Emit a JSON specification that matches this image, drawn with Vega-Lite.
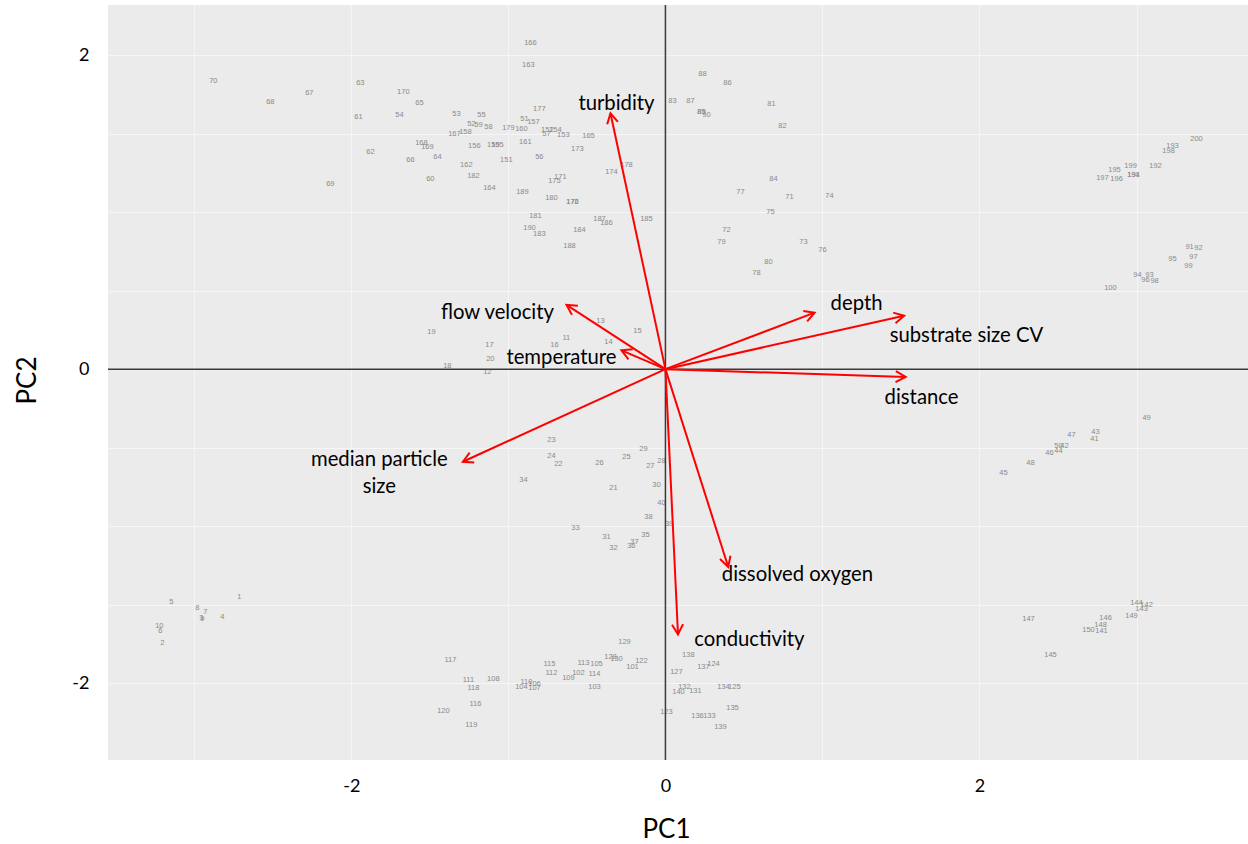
{
  "$schema": "https://vega.github.io/schema/vega-lite/v6.json",
  "width": 1140,
  "height": 755,
  "autosize": {"type": "none"},
  "padding": {"left": 108, "top": 5, "right": 0, "bottom": 84},
  "background": "white",
  "config": {
    "font": "Lato",
    "view": {"fill": "#EBEBEB", "stroke": null}
  },
  "datasets": {
    "samples": [
      {"id": "1", "pc1": -2.713, "pc2": -1.452}, {"id": "2", "pc1": -3.204, "pc2": -1.745},
      {"id": "3", "pc1": -2.955, "pc2": -1.586}, {"id": "4", "pc1": -2.822, "pc2": -1.58},
      {"id": "5", "pc1": -3.146, "pc2": -1.484}, {"id": "6", "pc1": -3.217, "pc2": -1.669},
      {"id": "7", "pc1": -2.93, "pc2": -1.548}, {"id": "8", "pc1": -2.981, "pc2": -1.522},
      {"id": "9", "pc1": -2.949, "pc2": -1.592}, {"id": "10", "pc1": -3.223, "pc2": -1.637},
      {"id": "11", "pc1": -0.631, "pc2": 0.197}, {"id": "12", "pc1": -1.134, "pc2": -0.019},
      {"id": "13", "pc1": -0.414, "pc2": 0.306}, {"id": "14", "pc1": -0.363, "pc2": 0.172},
      {"id": "15", "pc1": -0.178, "pc2": 0.242}, {"id": "16", "pc1": -0.707, "pc2": 0.153},
      {"id": "17", "pc1": -1.121, "pc2": 0.153}, {"id": "18", "pc1": -1.389, "pc2": 0.019},
      {"id": "19", "pc1": -1.49, "pc2": 0.236}, {"id": "20", "pc1": -1.115, "pc2": 0.064},
      {"id": "21", "pc1": -0.331, "pc2": -0.758}, {"id": "22", "pc1": -0.682, "pc2": -0.605},
      {"id": "23", "pc1": -0.726, "pc2": -0.452}, {"id": "24", "pc1": -0.726, "pc2": -0.554},
      {"id": "25", "pc1": -0.248, "pc2": -0.561}, {"id": "26", "pc1": -0.42, "pc2": -0.599},
      {"id": "27", "pc1": -0.096, "pc2": -0.618}, {"id": "28", "pc1": -0.025, "pc2": -0.586},
      {"id": "29", "pc1": -0.14, "pc2": -0.51}, {"id": "30", "pc1": -0.057, "pc2": -0.739},
      {"id": "31", "pc1": -0.376, "pc2": -1.07}, {"id": "32", "pc1": -0.331, "pc2": -1.14},
      {"id": "33", "pc1": -0.573, "pc2": -1.013}, {"id": "34", "pc1": -0.904, "pc2": -0.707},
      {"id": "35", "pc1": -0.127, "pc2": -1.057}, {"id": "36", "pc1": -0.217, "pc2": -1.127},
      {"id": "37", "pc1": -0.197, "pc2": -1.102}, {"id": "38", "pc1": -0.108, "pc2": -0.943},
      {"id": "39", "pc1": 0.025, "pc2": -0.987}, {"id": "40", "pc1": -0.025, "pc2": -0.854},
      {"id": "41", "pc1": 2.732, "pc2": -0.446}, {"id": "42", "pc1": 2.541, "pc2": -0.49},
      {"id": "43", "pc1": 2.739, "pc2": -0.401}, {"id": "44", "pc1": 2.503, "pc2": -0.522},
      {"id": "45", "pc1": 2.153, "pc2": -0.662}, {"id": "46", "pc1": 2.446, "pc2": -0.535},
      {"id": "47", "pc1": 2.586, "pc2": -0.42}, {"id": "48", "pc1": 2.325, "pc2": -0.599},
      {"id": "49", "pc1": 3.064, "pc2": -0.312}, {"id": "50", "pc1": 2.503, "pc2": -0.49},
      {"id": "51", "pc1": -0.898, "pc2": 1.592}, {"id": "52", "pc1": -1.236, "pc2": 1.561},
      {"id": "53", "pc1": -1.331, "pc2": 1.624}, {"id": "54", "pc1": -1.694, "pc2": 1.618},
      {"id": "55", "pc1": -1.172, "pc2": 1.618}, {"id": "56", "pc1": -0.803, "pc2": 1.35},
      {"id": "57", "pc1": -0.758, "pc2": 1.497}, {"id": "58", "pc1": -1.127, "pc2": 1.541},
      {"id": "59", "pc1": -1.191, "pc2": 1.554}, {"id": "60", "pc1": -1.497, "pc2": 1.21},
      {"id": "61", "pc1": -1.955, "pc2": 1.605}, {"id": "62", "pc1": -1.879, "pc2": 1.382},
      {"id": "63", "pc1": -1.943, "pc2": 1.822}, {"id": "64", "pc1": -1.452, "pc2": 1.35},
      {"id": "65", "pc1": -1.567, "pc2": 1.694}, {"id": "66", "pc1": -1.624, "pc2": 1.331},
      {"id": "67", "pc1": -2.268, "pc2": 1.758}, {"id": "68", "pc1": -2.516, "pc2": 1.701},
      {"id": "69", "pc1": -2.134, "pc2": 1.178}, {"id": "70", "pc1": -2.879, "pc2": 1.834},
      {"id": "71", "pc1": 0.79, "pc2": 1.096}, {"id": "72", "pc1": 0.389, "pc2": 0.885},
      {"id": "73", "pc1": 0.879, "pc2": 0.809}, {"id": "74", "pc1": 1.045, "pc2": 1.102},
      {"id": "75", "pc1": 0.669, "pc2": 1.0}, {"id": "76", "pc1": 1.0, "pc2": 0.758},
      {"id": "77", "pc1": 0.478, "pc2": 1.127}, {"id": "78", "pc1": 0.58, "pc2": 0.611},
      {"id": "79", "pc1": 0.357, "pc2": 0.809}, {"id": "80", "pc1": 0.656, "pc2": 0.682},
      {"id": "81", "pc1": 0.675, "pc2": 1.688}, {"id": "82", "pc1": 0.745, "pc2": 1.548},
      {"id": "83", "pc1": 0.045, "pc2": 1.707}, {"id": "84", "pc1": 0.688, "pc2": 1.21},
      {"id": "85", "pc1": 0.229, "pc2": 1.637}, {"id": "86", "pc1": 0.395, "pc2": 1.822},
      {"id": "87", "pc1": 0.159, "pc2": 1.707}, {"id": "88", "pc1": 0.236, "pc2": 1.879},
      {"id": "89", "pc1": 0.229, "pc2": 1.637}, {"id": "90", "pc1": 0.261, "pc2": 1.618},
      {"id": "91", "pc1": 3.338, "pc2": 0.777}, {"id": "92", "pc1": 3.395, "pc2": 0.771},
      {"id": "93", "pc1": 3.083, "pc2": 0.599}, {"id": "94", "pc1": 3.006, "pc2": 0.599},
      {"id": "95", "pc1": 3.229, "pc2": 0.701}, {"id": "96", "pc1": 3.057, "pc2": 0.567},
      {"id": "97", "pc1": 3.363, "pc2": 0.713}, {"id": "98", "pc1": 3.115, "pc2": 0.561},
      {"id": "99", "pc1": 3.331, "pc2": 0.656}, {"id": "100", "pc1": 2.834, "pc2": 0.516},
      {"id": "101", "pc1": -0.21, "pc2": -1.898}, {"id": "102", "pc1": -0.554, "pc2": -1.936},
      {"id": "103", "pc1": -0.452, "pc2": -2.025}, {"id": "104", "pc1": -0.917, "pc2": -2.025},
      {"id": "105", "pc1": -0.439, "pc2": -1.879}, {"id": "106", "pc1": -0.834, "pc2": -2.006},
      {"id": "107", "pc1": -0.834, "pc2": -2.032}, {"id": "108", "pc1": -1.096, "pc2": -1.975},
      {"id": "109", "pc1": -0.618, "pc2": -1.968}, {"id": "110", "pc1": -0.885, "pc2": -1.994},
      {"id": "111", "pc1": -1.255, "pc2": -1.981}, {"id": "112", "pc1": -0.726, "pc2": -1.936},
      {"id": "113", "pc1": -0.522, "pc2": -1.873}, {"id": "114", "pc1": -0.452, "pc2": -1.943},
      {"id": "115", "pc1": -0.739, "pc2": -1.879}, {"id": "116", "pc1": -1.21, "pc2": -2.134},
      {"id": "117", "pc1": -1.369, "pc2": -1.854}, {"id": "118", "pc1": -1.223, "pc2": -2.032},
      {"id": "119", "pc1": -1.236, "pc2": -2.268}, {"id": "120", "pc1": -1.414, "pc2": -2.178},
      {"id": "122", "pc1": -0.153, "pc2": -1.86}, {"id": "123", "pc1": 0.006, "pc2": -2.185},
      {"id": "124", "pc1": 0.306, "pc2": -1.879}, {"id": "125", "pc1": 0.439, "pc2": -2.025},
      {"id": "127", "pc1": 0.07, "pc2": -1.93}, {"id": "128", "pc1": -0.35, "pc2": -1.834},
      {"id": "129", "pc1": -0.261, "pc2": -1.739}, {"id": "130", "pc1": -0.312, "pc2": -1.847},
      {"id": "131", "pc1": 0.191, "pc2": -2.051}, {"id": "132", "pc1": 0.121, "pc2": -2.025},
      {"id": "133", "pc1": 0.28, "pc2": -2.21}, {"id": "134", "pc1": 0.369, "pc2": -2.025},
      {"id": "135", "pc1": 0.427, "pc2": -2.159}, {"id": "136", "pc1": 0.204, "pc2": -2.21},
      {"id": "137", "pc1": 0.242, "pc2": -1.898}, {"id": "138", "pc1": 0.146, "pc2": -1.822},
      {"id": "139", "pc1": 0.35, "pc2": -2.28}, {"id": "140", "pc1": 0.083, "pc2": -2.057},
      {"id": "141", "pc1": 2.777, "pc2": -1.669}, {"id": "142", "pc1": 3.064, "pc2": -1.503},
      {"id": "143", "pc1": 3.032, "pc2": -1.529}, {"id": "144", "pc1": 3.0, "pc2": -1.49},
      {"id": "145", "pc1": 2.452, "pc2": -1.822}, {"id": "146", "pc1": 2.803, "pc2": -1.586},
      {"id": "147", "pc1": 2.312, "pc2": -1.592}, {"id": "148", "pc1": 2.771, "pc2": -1.631},
      {"id": "149", "pc1": 2.968, "pc2": -1.573}, {"id": "150", "pc1": 2.694, "pc2": -1.662},
      {"id": "151", "pc1": -1.013, "pc2": 1.331}, {"id": "152", "pc1": -0.752, "pc2": 1.522},
      {"id": "153", "pc1": -0.65, "pc2": 1.49}, {"id": "154", "pc1": -0.701, "pc2": 1.522},
      {"id": "155", "pc1": -1.07, "pc2": 1.427}, {"id": "156", "pc1": -1.217, "pc2": 1.42},
      {"id": "157", "pc1": -0.841, "pc2": 1.573}, {"id": "158", "pc1": -1.274, "pc2": 1.51},
      {"id": "159", "pc1": -1.096, "pc2": 1.427}, {"id": "160", "pc1": -0.917, "pc2": 1.529},
      {"id": "161", "pc1": -0.892, "pc2": 1.446}, {"id": "162", "pc1": -1.268, "pc2": 1.299},
      {"id": "163", "pc1": -0.873, "pc2": 1.936}, {"id": "164", "pc1": -1.121, "pc2": 1.153},
      {"id": "165", "pc1": -0.49, "pc2": 1.484}, {"id": "166", "pc1": -0.86, "pc2": 2.076},
      {"id": "167", "pc1": -1.344, "pc2": 1.497}, {"id": "168", "pc1": -1.554, "pc2": 1.439},
      {"id": "169", "pc1": -1.516, "pc2": 1.414}, {"id": "170", "pc1": -1.669, "pc2": 1.764},
      {"id": "171", "pc1": -0.669, "pc2": 1.223}, {"id": "172", "pc1": -0.592, "pc2": 1.064},
      {"id": "173", "pc1": -0.561, "pc2": 1.401}, {"id": "174", "pc1": -0.344, "pc2": 1.255},
      {"id": "175", "pc1": -0.707, "pc2": 1.197}, {"id": "176", "pc1": -0.592, "pc2": 1.064},
      {"id": "177", "pc1": -0.803, "pc2": 1.656}, {"id": "178", "pc1": -0.248, "pc2": 1.299},
      {"id": "179", "pc1": -1.0, "pc2": 1.535}, {"id": "180", "pc1": -0.726, "pc2": 1.089},
      {"id": "181", "pc1": -0.828, "pc2": 0.975}, {"id": "182", "pc1": -1.223, "pc2": 1.229},
      {"id": "183", "pc1": -0.803, "pc2": 0.86}, {"id": "184", "pc1": -0.548, "pc2": 0.885},
      {"id": "185", "pc1": -0.121, "pc2": 0.955}, {"id": "186", "pc1": -0.376, "pc2": 0.93},
      {"id": "187", "pc1": -0.42, "pc2": 0.955}, {"id": "188", "pc1": -0.611, "pc2": 0.783},
      {"id": "189", "pc1": -0.911, "pc2": 1.127}, {"id": "190", "pc1": -0.866, "pc2": 0.898},
      {"id": "191", "pc1": 2.981, "pc2": 1.236}, {"id": "192", "pc1": 3.121, "pc2": 1.293},
      {"id": "193", "pc1": 3.229, "pc2": 1.42}, {"id": "194", "pc1": 2.981, "pc2": 1.236},
      {"id": "195", "pc1": 2.86, "pc2": 1.268}, {"id": "196", "pc1": 2.873, "pc2": 1.21},
      {"id": "197", "pc1": 2.783, "pc2": 1.217}, {"id": "198", "pc1": 3.204, "pc2": 1.389},
      {"id": "199", "pc1": 2.962, "pc2": 1.293}, {"id": "200", "pc1": 3.382, "pc2": 1.465}
    ],
    "loadings": [
      {"variable": "turbidity", "pc1": -0.35, "pc2": 1.63},
      {"variable": "flow velocity", "pc1": -0.63, "pc2": 0.41},
      {"variable": "temperature", "pc1": -0.28, "pc2": 0.12},
      {"variable": "depth", "pc1": 0.95, "pc2": 0.36},
      {"variable": "substrate size CV", "pc1": 1.52, "pc2": 0.34},
      {"variable": "distance", "pc1": 1.53, "pc2": -0.05},
      {"variable": "median particle size", "pc1": -1.29, "pc2": -0.59},
      {"variable": "dissolved oxygen", "pc1": 0.4, "pc2": -1.26},
      {"variable": "conductivity", "pc1": 0.08, "pc2": -1.69}
    ],
    "captions": [
      {"text": "turbidity", "pc1": -0.312, "pc2": 1.688},
      {"text": "flow velocity", "pc1": -1.07, "pc2": 0.357},
      {"text": "temperature", "pc1": -0.662, "pc2": 0.07},
      {"text": "depth", "pc1": 1.217, "pc2": 0.414},
      {"text": "substrate size CV", "pc1": 1.917, "pc2": 0.21},
      {"text": "distance", "pc1": 1.631, "pc2": -0.185},
      {"text": "median particle\nsize", "pc1": -1.822, "pc2": -0.58},
      {"text": "dissolved oxygen", "pc1": 0.841, "pc2": -1.312},
      {"text": "conductivity", "pc1": 0.535, "pc2": -1.726}
    ],
    "origin": [{"pc1": 0, "pc2": 0}]
  },
  "layer": [
    {
      "data": {"name": "samples"},
      "mark": {"type": "text", "fontSize": 7.5, "font": "Liberation Sans", "color": "#8a8a8a", "align": "center", "baseline": "middle"},
      "encoding": {
        "x": {
          "field": "pc1", "type": "quantitative",
          "scale": {"domain": [-3.55, 3.71], "nice": false, "zero": false},
          "axis": {
            "values": [-3, -2, -1, 0, 1, 2, 3],
            "labelExpr": "datum.value === -2 ? '-2' : datum.value === 0 ? '0' : datum.value === 2 ? '2' : ''",
            "grid": true, "gridColor": "#F6F6F6", "gridWidth": 1,
            "ticks": false, "domain": false,
            "labelFont": "Lato", "labelFontSize": 18, "labelColor": "#000000", "labelPadding": 17,
            "title": "PC1", "titleFont": "Lato", "titleFontSize": 26, "titleFontWeight": "normal", "titleColor": "#000000", "titlePadding": 21,
            "titleX": 558, "titleAnchor": null, "titleAlign": "center"
          }
        },
        "y": {
          "field": "pc2", "type": "quantitative",
          "scale": {"domain": [-2.49, 2.32], "nice": false, "zero": false},
          "axis": {
            "values": [-2, -1.5, -1, -0.5, 0, 0.5, 1, 1.5, 2],
            "labelExpr": "datum.value === -2 ? '-2' : datum.value === 0 ? '0' : datum.value === 2 ? '2' : ''",
            "grid": true, "gridColor": "#F6F6F6", "gridWidth": 1,
            "ticks": false, "domain": false,
            "labelFont": "Lato", "labelFontSize": 18, "labelColor": "#000000", "labelPadding": 19,
            "title": "PC2", "titleFont": "Lato", "titleFontSize": 26, "titleFontWeight": "normal", "titleColor": "#000000", "titlePadding": 31,
            "titleY": 375, "titleAlign": "center"
          }
        },
        "text": {"field": "id"}
      }
    },
    {
      "data": {"name": "origin"},
      "mark": {"type": "rule", "color": "#3a3a3a", "strokeWidth": 1.5},
      "encoding": {"x": {"field": "pc1", "type": "quantitative"}}
    },
    {
      "data": {"name": "origin"},
      "mark": {"type": "rule", "color": "#3a3a3a", "strokeWidth": 1.5},
      "encoding": {"y": {"field": "pc2", "type": "quantitative"}}
    },
    {
      "data": {"name": "loadings"},
      "mark": {"type": "rule", "color": "#FF0000", "strokeWidth": 2},
      "encoding": {
        "x": {"field": "pc1", "type": "quantitative"},
        "y": {"field": "pc2", "type": "quantitative"},
        "x2": {"datum": 0},
        "y2": {"datum": 0}
      }
    },
    {
      "data": {"name": "loadings"},
      "transform": [{"calculate": "atan2(datum.pc1, datum.pc2) * 180 / PI", "as": "heading"}],
      "mark": {"type": "point", "shape": "M-0.55,1L0,0L0.55,1", "filled": false, "stroke": "#FF0000", "strokeWidth": 2, "size": 400, "opacity": 1},
      "encoding": {
        "x": {"field": "pc1", "type": "quantitative"},
        "y": {"field": "pc2", "type": "quantitative"},
        "angle": {"field": "heading", "type": "quantitative", "scale": null}
      }
    },
    {
      "data": {"name": "captions"},
      "mark": {"type": "text", "fontSize": 20.3, "font": "Lato", "color": "#000000", "align": "center", "baseline": "middle", "lineBreak": "\n", "lineHeight": 27},
      "encoding": {
        "x": {"field": "pc1", "type": "quantitative"},
        "y": {"field": "pc2", "type": "quantitative"},
        "text": {"field": "text"}
      }
    }
  ]
}
